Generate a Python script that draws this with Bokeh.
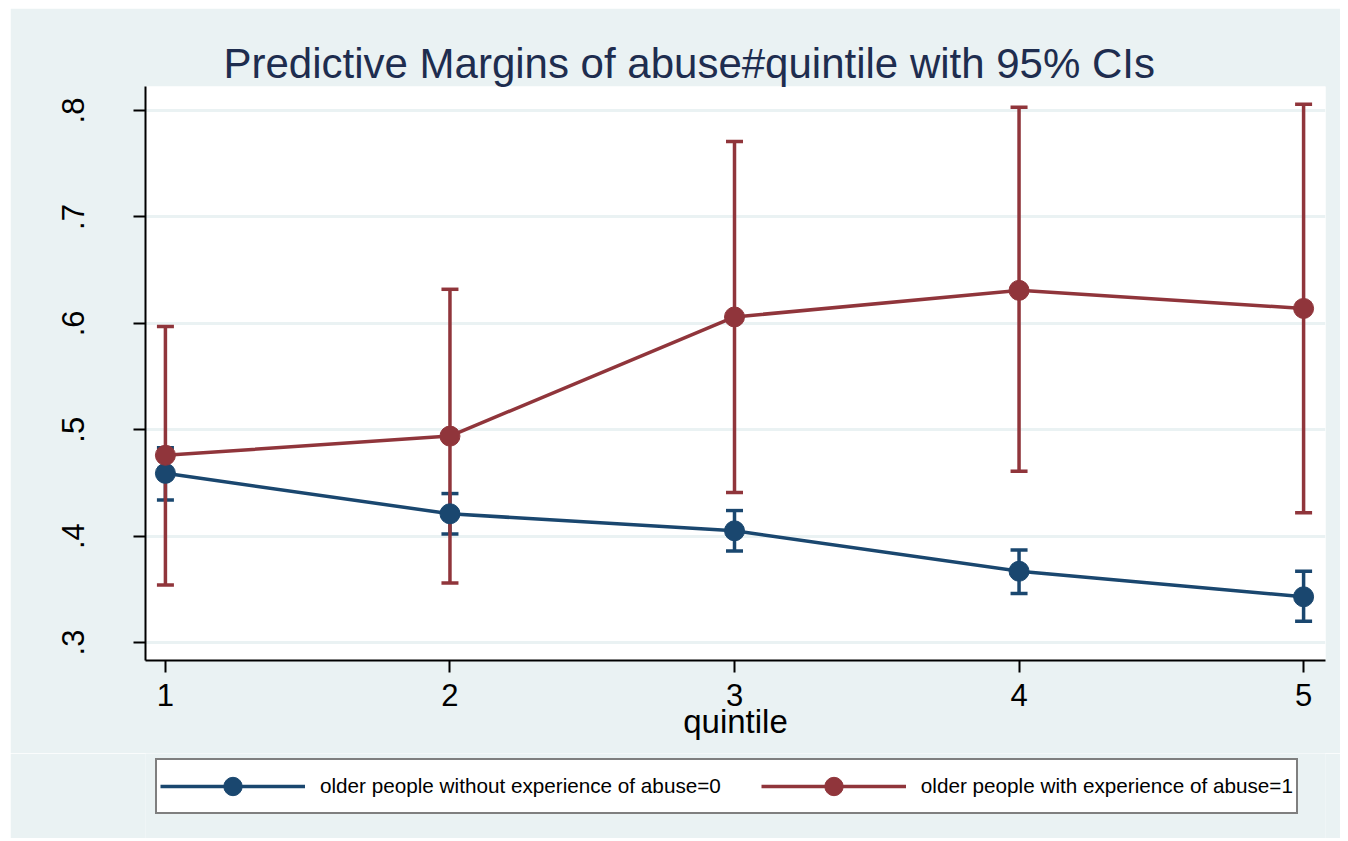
from bokeh.plotting import figure
from bokeh.layouts import column, row
from bokeh.models import (ColumnDataSource, Whisker, TeeHead, Legend, LegendItem,
                          FixedTicker, Range1d, Spacer)
from bokeh.embed import file_html
from bokeh.resources import INLINE

# ---- data ----
quintile = [1, 2, 3, 4, 5]
no_abuse_margin = [0.459, 0.421, 0.405, 0.367, 0.343]
no_abuse_lower = [0.434, 0.402, 0.386, 0.346, 0.320]
no_abuse_upper = [0.483, 0.440, 0.424, 0.387, 0.367]
abuse_margin = [0.476, 0.494, 0.606, 0.631, 0.614]
abuse_lower = [0.354, 0.356, 0.441, 0.461, 0.422]
abuse_upper = [0.597, 0.632, 0.771, 0.803, 0.806]
x_ticks = [1, 2, 3, 4, 5]
y_ticks = [0.3, 0.4, 0.5, 0.6, 0.7, 0.8]
y_tick_labels = [".3", ".4", ".5", ".6", ".7", ".8"]
title_text = "Predictive Margins of abuse#quintile with 95% CIs"
label0 = "older people without experience of abuse=0"
label1 = "older people with experience of abuse=1"
x_label = "quintile"

BLUE = "#1a476f"
RED = "#90353b"
BG = "#eaf2f3"
FONT = "Liberation Sans"
LW = 3.5

p = figure(width=1330, height=745, output_backend="svg", toolbar_location=None,
           x_range=Range1d(0.93, 5.077), y_range=Range1d(0.2831, 0.8226),
           min_border_left=135, min_border_right=15, min_border_top=78,
           min_border_bottom=93)
p.border_fill_color = BG
p.background_fill_color = "white"
p.outline_line_color = None

# title
p.title.text = title_text
p.title.text_font = FONT
p.title.text_font_size = "42px"
p.title.text_font_style = "normal"
p.title.text_color = "#1e2d4f"
p.title.align = "left"
p.title.offset = 78
p.title.standoff = 0

# grids
p.xgrid.grid_line_color = None
p.ygrid.ticker = FixedTicker(ticks=y_ticks)
p.ygrid.grid_line_color = BG
p.ygrid.grid_line_width = 3

# axes
p.xaxis.ticker = FixedTicker(ticks=x_ticks)
p.yaxis.ticker = FixedTicker(ticks=y_ticks)
p.yaxis.major_label_overrides = {t: l for t, l in zip(y_ticks, y_tick_labels)}
for ax in (p.xaxis[0], p.yaxis[0]):
    ax.axis_line_color = "black"
    ax.axis_line_width = 2
    ax.major_tick_line_color = "black"
    ax.major_tick_line_width = 2
    ax.major_tick_out = 12
    ax.major_tick_in = 0
    ax.minor_tick_line_color = None
    ax.major_label_text_font = FONT
    ax.major_label_text_color = "black"
p.xaxis.major_label_text_font_size = "31px"
p.xaxis.major_label_standoff = 11
p.xaxis.axis_label = x_label
p.xaxis.axis_label_text_font = FONT
p.xaxis.axis_label_text_font_size = "33px"
p.xaxis.axis_label_text_font_style = "normal"
p.xaxis.axis_label_text_color = "black"
p.xaxis.axis_label_standoff = -6
p.yaxis.major_label_text_font_size = "31px"
p.yaxis.major_label_orientation = "vertical"
p.yaxis.major_label_standoff = 49

# confidence intervals
src0 = ColumnDataSource(dict(x=quintile, m=no_abuse_margin, lo=no_abuse_lower, hi=no_abuse_upper))
src1 = ColumnDataSource(dict(x=quintile, m=abuse_margin, lo=abuse_lower, hi=abuse_upper))

for src, col in ((src0, BLUE), (src1, RED)):
    w = Whisker(source=src, base="x", lower="lo", upper="hi", dimension="height",
                line_color=col, line_width=LW, level="underlay",
                upper_head=TeeHead(size=17, line_color=col, line_width=LW),
                lower_head=TeeHead(size=17, line_color=col, line_width=LW))
    p.add_layout(w)

# lines + markers
p.line("x", "m", source=src0, line_color=BLUE, line_width=LW)
p.line("x", "m", source=src1, line_color=RED, line_width=LW)
p.scatter("x", "m", source=src0, size=20, fill_color=BLUE, line_color=BLUE)
p.scatter("x", "m", source=src1, size=20, fill_color=RED, line_color=RED)

# ---- legend strip (separate figure so the box is not clipped) ----
# the series are drawn again here but outside the visible y range; they only feed the legend keys
q = figure(width=1330, height=85, output_backend="svg", toolbar_location=None,
           x_range=Range1d(0.93, 5.077), y_range=Range1d(10, 11),
           min_border_left=135, min_border_right=15, min_border_top=0,
           min_border_bottom=0)
q.axis.visible = False
q.grid.visible = False
q.border_fill_color = BG
q.background_fill_color = BG
q.outline_line_color = None
kl0 = q.line("x", "m", source=src0, line_color=BLUE, line_width=LW)
kl1 = q.line("x", "m", source=src1, line_color=RED, line_width=LW)
ks0 = q.scatter("x", "m", source=src0, size=20, fill_color=BLUE, line_color=BLUE)
ks1 = q.scatter("x", "m", source=src1, size=20, fill_color=RED, line_color=RED)

legend = Legend(items=[LegendItem(label=label0, renderers=[kl0, ks0]),
                       LegendItem(label=label1, renderers=[kl1, ks1])],
                orientation="horizontal", location=(10, 24),
                glyph_width=145, glyph_height=46, padding=3, spacing=40,
                label_standoff=15,
                label_text_font=FONT, label_text_font_size="20.7px",
                label_text_color="black",
                border_line_color="black", border_line_width=2,
                background_fill_color="white", background_fill_alpha=1.0,
                margin=0)
q.add_layout(legend)

layout = row(Spacer(width=10, height=10),
             column(Spacer(width=10, height=8), p, q, spacing=0),
             spacing=0)
open("out.html", "w").write(file_html(layout, INLINE))
